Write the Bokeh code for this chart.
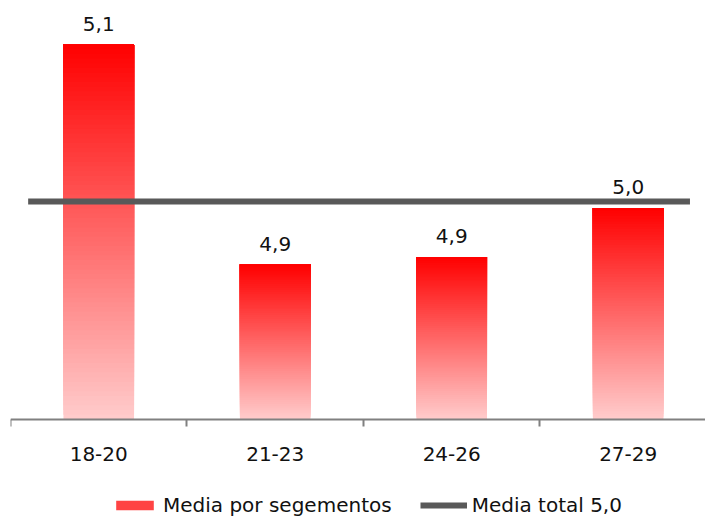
from bokeh.plotting import figure
from bokeh.models import Range1d, FixedTicker, Legend, LegendItem
from bokeh.core.properties import value
from bokeh.embed import file_html
from bokeh.resources import INLINE

# ---- data ----
categories = ["18-20", "21-23", "24-26", "27-29"]
segment_means = [5.144, 4.942, 4.949, 4.994]
total_mean = 5.0
series_names = ["Media por segementos", "Media total 5,0"]

# ---- style / layout ----
FONT = "DejaVu Sans"
FS = "20px"
Y_BASE = 4.8                 # value axis minimum (bar base)
Y_MIN, Y_MAX = 4.709, 5.1844  # visible range (room below for labels + legend)
X_MAX = 3.938
BAR_W = 0.4
LINE_X0, LINE_X1 = 0.10, 3.85
N_SLICES = 80
TOP_RGB = (255, 0, 0)
BOTTOM_RGB = (255, 204, 204)


def mix(t):
    # t = 0 bottom (pink) .. 1 top (red)
    c = [round(b + (a - b) * t) for a, b in zip(TOP_RGB, BOTTOM_RGB)]
    return "#%02x%02x%02x" % tuple(c)


p = figure(width=705, height=518, output_backend="svg", toolbar_location=None,
           x_range=Range1d(0, X_MAX), y_range=Range1d(Y_MIN, Y_MAX),
           min_border_left=10, min_border_right=0, min_border_top=0,
           min_border_bottom=0)
p.outline_line_color = None
p.grid.visible = False
p.yaxis.visible = False

xs = [i + 0.5 for i in range(len(categories))]

# gradient bars: painter-style stacked slices (each from its bottom to bar top)
slice_renderers = []
for j in range(N_SLICES):
    t = (j + 0.5) / N_SLICES
    bottoms = [Y_BASE + (v - Y_BASE) * j / N_SLICES for v in segment_means]
    r = p.vbar(x=xs, width=BAR_W, bottom=bottoms, top=segment_means,
               fill_color=mix(t), line_color=None)
    slice_renderers.append(r)

# total mean line
r_line = p.segment(x0=[LINE_X0], x1=[LINE_X1], y0=[total_mean], y1=[total_mean],
                   line_color="#595959", line_width=6)

# value labels
labels = [("%.1f" % v).replace(".", ",") for v in segment_means]
p.text(x=xs, y=segment_means, text=labels, text_align="center",
       text_baseline="alphabetic", y_offset=-21,
       text_font=value(FONT), text_font_size=FS, text_color="#111111")

# x axis at the bar base: labels at centres, tick marks at boundaries
ax = p.xaxis[0]
ax.fixed_location = Y_BASE
ax.ticker = FixedTicker(ticks=xs, minor_ticks=list(range(len(categories))))
ax.major_label_overrides = {x: c for x, c in zip(xs, categories)}
ax.major_tick_out = 0
ax.major_tick_in = 0
ax.minor_tick_out = 7
ax.minor_tick_in = 0
ax.minor_tick_line_color = "#808080"
ax.minor_tick_line_width = 2
ax.axis_line_color = "#808080"
ax.axis_line_width = 2
ax.major_label_text_font = FONT
ax.major_label_text_font_size = FS
ax.major_label_text_color = "#111111"
ax.major_label_standoff = 21

# legend inside the frame, at its bottom
legend = Legend(items=[LegendItem(label=series_names[0],
                                  renderers=[slice_renderers[N_SLICES * 2 // 3]]),
                       LegendItem(label=series_names[1], renderers=[r_line])],
                orientation="horizontal", location=(101, 1),
                label_text_font=FONT, label_text_font_size=FS,
                label_text_color="#111111",
                glyph_width=47, glyph_height=12, spacing=28, label_standoff=5,
                padding=0, margin=0, border_line_color=None,
                background_fill_alpha=0)
p.add_layout(legend, "center")

open("out.html", "w").write(file_html(p, INLINE))
